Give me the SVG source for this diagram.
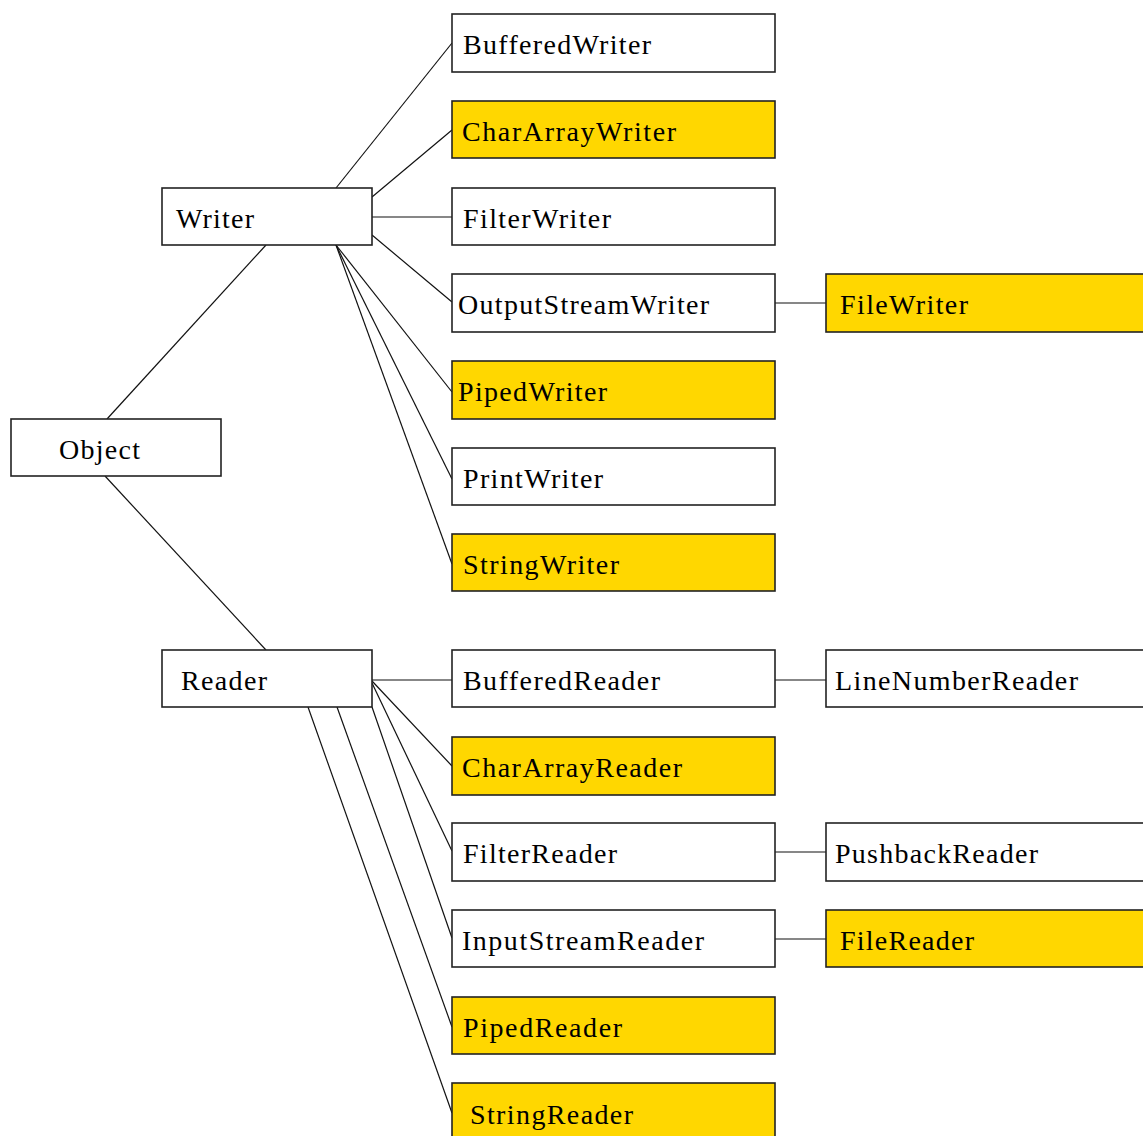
<svg xmlns="http://www.w3.org/2000/svg" width="1143" height="1136" viewBox="0 0 1143 1136">
<style>
  .box{fill:#ffffff;stroke:#222222;stroke-width:1.6}
  .hl{fill:#FFD700;stroke:#222222;stroke-width:1.6}
  .t{font-family:"Liberation Serif","Times New Roman",serif;font-size:28px;fill:#000}
  .c line{stroke:#111111;stroke-width:1.2;fill:none}
</style>
<rect width="1143" height="1136" fill="#ffffff"/>
<g class="c" id="connectors">
  <line x1="107" y1="419" x2="266" y2="245"/>
  <line x1="105" y1="476" x2="266" y2="650"/>
  <line x1="336" y1="188" x2="452" y2="43"/>
  <line x1="372" y1="197" x2="452" y2="130"/>
  <line x1="372" y1="217" x2="452" y2="217"/>
  <line x1="372" y1="235" x2="452" y2="302"/>
  <line x1="336" y1="245" x2="452" y2="392"/>
  <line x1="336" y1="245" x2="452" y2="479"/>
  <line x1="336" y1="245" x2="452" y2="564"/>
  <line x1="775" y1="303" x2="826" y2="303"/>
  <line x1="372" y1="680" x2="452" y2="680"/>
  <line x1="372" y1="681" x2="452" y2="766"/>
  <line x1="372" y1="683" x2="452" y2="851"/>
  <line x1="372" y1="707" x2="452" y2="938"/>
  <line x1="337" y1="707" x2="452" y2="1027"/>
  <line x1="308" y1="707" x2="452" y2="1113"/>
  <line x1="775" y1="680" x2="826" y2="680"/>
  <line x1="775" y1="852" x2="826" y2="852"/>
  <line x1="775" y1="939" x2="826" y2="939"/>
</g>
<g id="object"><rect class="box" x="11" y="419" width="210" height="57"/><text class="t" x="59" y="459" textLength="81">Object</text></g>
<g id="writer"><rect class="box" x="162" y="188" width="210" height="57"/><text class="t" x="176" y="228" textLength="78">Writer</text></g>
<g id="reader"><rect class="box" x="162" y="650" width="210" height="57"/><text class="t" x="181" y="690" textLength="86">Reader</text></g>

<g id="bufferedwriter"><rect class="box" x="452" y="14" width="323" height="58"/><text class="t" x="463" y="54" textLength="188">BufferedWriter</text></g>
<g id="chararraywriter"><rect class="hl" x="452" y="101" width="323" height="57"/><text class="t" x="462" y="141" textLength="214">CharArrayWriter</text></g>
<g id="filterwriter"><rect class="box" x="452" y="188" width="323" height="57"/><text class="t" x="463" y="228" textLength="148">FilterWriter</text></g>
<g id="outputstreamwriter"><rect class="box" x="452" y="274" width="323" height="58"/><text class="t" x="458" y="314" textLength="251">OutputStreamWriter</text></g>
<g id="pipedwriter"><rect class="hl" x="452" y="361" width="323" height="58"/><text class="t" x="458" y="401" textLength="149">PipedWriter</text></g>
<g id="printwriter"><rect class="box" x="452" y="448" width="323" height="57"/><text class="t" x="463" y="488" textLength="140">PrintWriter</text></g>
<g id="stringwriter"><rect class="hl" x="452" y="534" width="323" height="57"/><text class="t" x="463" y="574" textLength="156">StringWriter</text></g>
<g id="filewriter"><rect class="hl" x="826" y="274" width="330" height="58"/><text class="t" x="840" y="314" textLength="128">FileWriter</text></g>

<g id="bufferedreader"><rect class="box" x="452" y="650" width="323" height="57"/><text class="t" x="463" y="690" textLength="197">BufferedReader</text></g>
<g id="chararrayreader"><rect class="hl" x="452" y="737" width="323" height="58"/><text class="t" x="462" y="777" textLength="220">CharArrayReader</text></g>
<g id="filterreader"><rect class="box" x="452" y="823" width="323" height="58"/><text class="t" x="463" y="863" textLength="154">FilterReader</text></g>
<g id="inputstreamreader"><rect class="box" x="452" y="910" width="323" height="57"/><text class="t" x="462" y="950" textLength="242">InputStreamReader</text></g>
<g id="pipedreader"><rect class="hl" x="452" y="997" width="323" height="57"/><text class="t" x="463" y="1037" textLength="159">PipedReader</text></g>
<g id="stringreader"><rect class="hl" x="452" y="1083" width="323" height="60"/><text class="t" x="470" y="1124" textLength="163">StringReader</text></g>
<g id="linenumberreader"><rect class="box" x="826" y="650" width="330" height="57"/><text class="t" x="835" y="690" textLength="243">LineNumberReader</text></g>
<g id="pushbackreader"><rect class="box" x="826" y="823" width="330" height="58"/><text class="t" x="835" y="863" textLength="203">PushbackReader</text></g>
<g id="filereader"><rect class="hl" x="826" y="910" width="330" height="57"/><text class="t" x="840" y="950" textLength="134">FileReader</text></g>
</svg>
